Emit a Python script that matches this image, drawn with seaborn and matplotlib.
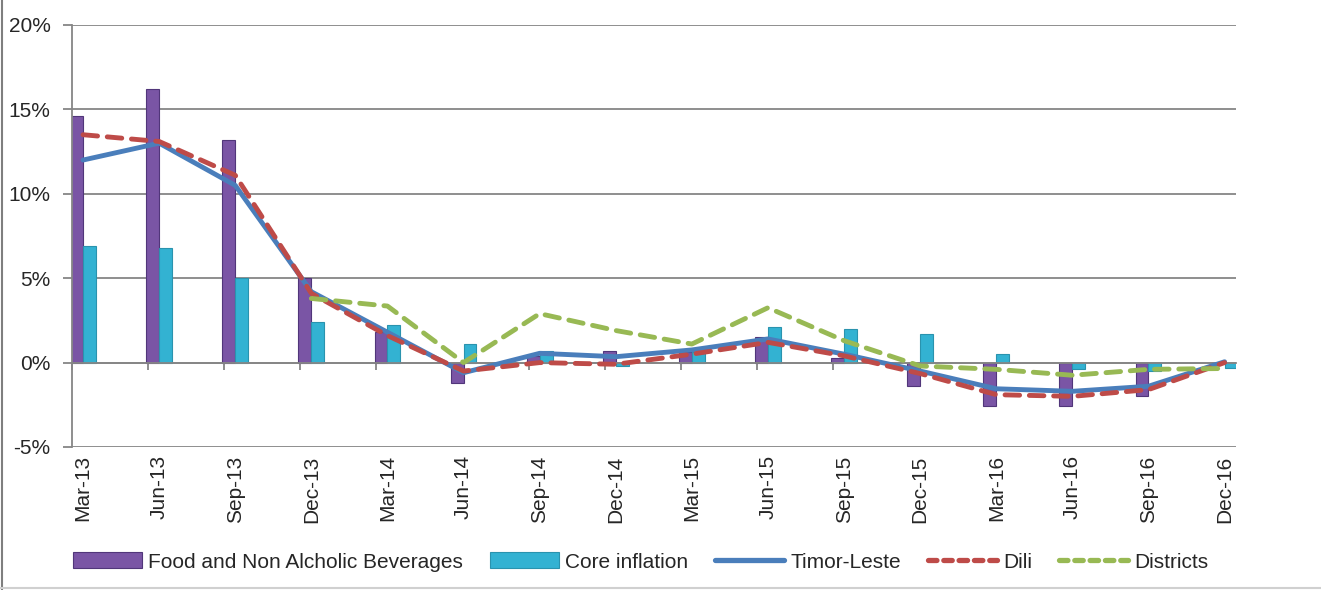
import numpy as np
import pandas as pd
import matplotlib
matplotlib.use("Agg")
import matplotlib.pyplot as plt
from matplotlib.patches import Patch
from matplotlib.lines import Line2D
import seaborn as sns

periods = ["Mar-13", "Jun-13", "Sep-13", "Dec-13", "Mar-14", "Jun-14", "Sep-14", "Dec-14",
           "Mar-15", "Jun-15", "Sep-15", "Dec-15", "Mar-16", "Jun-16", "Sep-16", "Dec-16"]
food = [14.6, 16.2, 13.2, 5.0, 1.8, -1.2, 0.4, 0.7, 0.6, 1.5, 0.3, -1.4, -2.6, -2.6, -2.0, -0.05]
core = [6.9, 6.8, 5.0, 2.4, 2.2, 1.1, 0.7, -0.2, 0.6, 2.1, 2.0, 1.7, 0.5, -0.35, -0.5, -0.3]
timor = [12.0, 13.0, 10.5, 4.2, 1.8, -0.6, 0.55, 0.35, 0.75, 1.4, 0.5, -0.5, -1.55, -1.7, -1.4, 0.05]
dili = [13.5, 13.1, 11.1, 4.1, 1.6, -0.5, 0.0, -0.1, 0.5, 1.2, 0.4, -0.65, -1.9, -2.0, -1.6, 0.0]
districts = [np.nan, np.nan, np.nan, 3.8, 3.35, 0.0, 2.9, 1.9, 1.1, 3.25, 1.3, -0.2, -0.4, -0.75, -0.4, -0.35]
bar_names = ["Food and Non Alcholic Beverages", "Core inflation"]
yticks = [-5, 0, 5, 10, 15, 20]

PURPLE = "#7A55A5"
PURPLE_EDGE = "#51367A"
CYAN = "#33B2D2"
CYAN_EDGE = "#2A93AE"
BLUE = "#4A7EBB"
RED = "#BE4B48"
GREEN = "#98B954"
GRID = "#868686"

sns.set_style("white")
plt.rcParams["font.family"] = ["Liberation Sans", "DejaVu Sans"]
FS = 15

fig = plt.figure(figsize=(13.21, 5.90), dpi=100)
ax = fig.add_axes([72 / 1321, (590 - 447) / 590, (1236 - 72) / 1321, (447 - 25) / 590])

bars = pd.DataFrame({
    "period": periods * 2,
    "value": food + core,
    "series": [bar_names[0]] * len(periods) + [bar_names[1]] * len(periods),
})
sns.barplot(data=bars, x="period", y="value", hue="series", order=periods,
            hue_order=bar_names, palette=[PURPLE, CYAN], saturation=1,
            width=0.34, dodge=True, legend=False, ax=ax, zorder=2)
for patch in ax.patches:
    fc = patch.get_facecolor()
    if abs(fc[0] - matplotlib.colors.to_rgb(PURPLE)[0]) < 0.02:
        patch.set_edgecolor(PURPLE_EDGE)
    else:
        patch.set_edgecolor(CYAN_EDGE)
    patch.set_linewidth(0.8)

xs = np.arange(len(periods))
sns.lineplot(x=xs, y=timor, ax=ax, color=BLUE, linewidth=3.5, zorder=3,
             solid_capstyle="round")
sns.lineplot(x=xs, y=dili, ax=ax, color=RED, linewidth=3.5, zorder=4,
             linestyle=(0, (3.0, 2.0)), dash_capstyle="round")
sns.lineplot(x=xs, y=districts, ax=ax, color=GREEN, linewidth=3.5, zorder=5,
             linestyle=(0, (3.0, 2.0)), dash_capstyle="round")

ax.set_xlim(-0.145, 15.15)
ax.set_ylim(-5, 20)
ax.set_xlabel("")
ax.set_ylabel("")

# y axis
ax.set_yticks(yticks)
ax.set_yticklabels([f"{v}%" for v in yticks], fontsize=FS)
ax.yaxis.grid(True, color=GRID, linewidth=1.3)
ax.set_axisbelow(True)
ax.tick_params(axis="y", left=True, length=6.5, width=1.3, color=GRID, pad=9)

# category axis at zero with tick marks
for s in ["top", "right"]:
    ax.spines[s].set_visible(False)
ax.spines["left"].set_color(GRID)
ax.spines["left"].set_linewidth(1.3)
ax.spines["bottom"].set_position(("data", 0))
ax.spines["bottom"].set_color(GRID)
ax.spines["bottom"].set_linewidth(1.3)
ax.set_xticks(xs - 0.145)
ax.set_xticklabels([])
ax.tick_params(axis="x", bottom=True, length=5, width=1.3, color=GRID, direction="out")

sec = ax.secondary_xaxis(0.0)
sec.set_xticks(xs)
sec.set_xticklabels(periods, rotation=90, fontsize=FS)
sec.tick_params(axis="x", length=0, pad=6)
sec.spines["bottom"].set_visible(False)

handles = [
    Patch(facecolor=PURPLE, edgecolor=PURPLE_EDGE, linewidth=0.8),
    Patch(facecolor=CYAN, edgecolor=CYAN_EDGE, linewidth=0.8),
    Line2D([], [], color=BLUE, linewidth=3.8),
    Line2D([], [], color=RED, linewidth=3.8, linestyle=(0, (1.6, 1.3)), dash_capstyle="round"),
    Line2D([], [], color=GREEN, linewidth=3.8, linestyle=(0, (1.6, 1.3)), dash_capstyle="round"),
]
labels = bar_names + ["Timor-Leste", "Dili", "Districts"]
fig.legend(handles, labels, loc="center", bbox_to_anchor=(0.485, (590 - 562) / 590),
           ncol=5, frameon=False, fontsize=FS, handlelength=3.3, handleheight=0.8,
           handletextpad=0.3, columnspacing=1.3)

fig.add_artist(Line2D([0.0015, 0.0015], [0, 1], transform=fig.transFigure, color="#7f7f7f", linewidth=1.5))
fig.add_artist(Line2D([0, 1], [0.003, 0.003], transform=fig.transFigure, color="#d0d0d0", linewidth=1.5))

fig.savefig("out.png", dpi=100)
